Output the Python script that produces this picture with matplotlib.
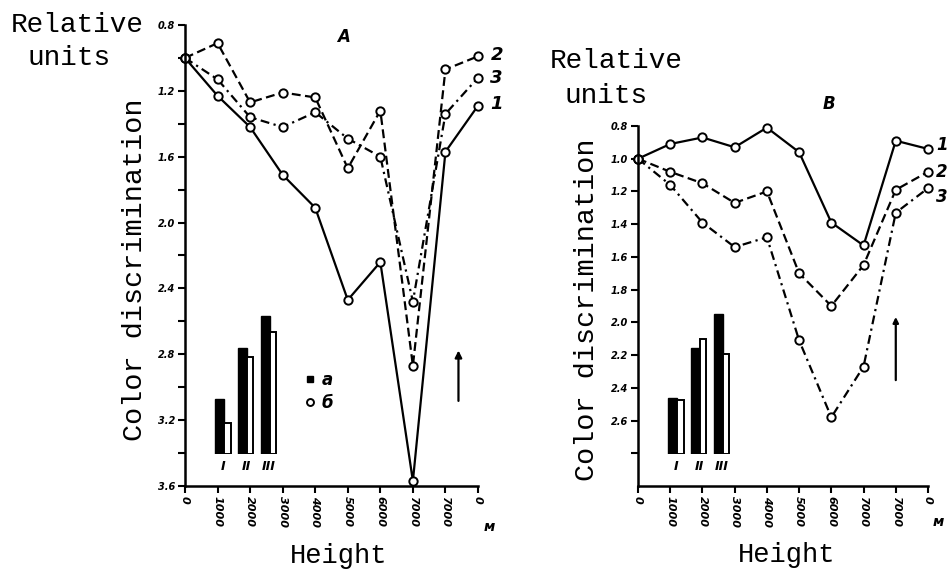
import matplotlib
matplotlib.use("Agg")
import matplotlib.pyplot as plt
import numpy as np
from matplotlib.lines import Line2D

# ---------------- data ----------------
height_labels = ["0", "1000", "2000", "3000", "4000", "5000", "6000", "7000", "7000", "0"]

A_curve1 = [1.00, 1.23, 1.42, 1.71, 1.91, 2.47, 2.24, 3.57, 1.57, 1.29]
A_curve2 = [1.00, 0.91, 1.27, 1.21, 1.24, 1.67, 1.32, 2.87, 1.07, 0.99]
A_curve3 = [1.00, 1.13, 1.36, 1.42, 1.33, 1.49, 1.60, 2.48, 1.34, 1.12]

B_curve1 = [1.00, 0.91, 0.87, 0.93, 0.81, 0.96, 1.39, 1.53, 0.89, 0.94]
B_curve2 = [1.00, 1.08, 1.15, 1.27, 1.20, 1.70, 1.90, 1.65, 1.19, 1.08]
B_curve3 = [1.00, 1.16, 1.39, 1.54, 1.48, 2.11, 2.58, 2.27, 1.33, 1.18]

A_yticks = [0.8, 1.0, 1.2, 1.4, 1.6, 1.8, 2.0, 2.2, 2.4, 2.6, 2.8, 3.0, 3.2, 3.4, 3.6]
A_yticklabels = ["0.8", "", "1.2", "", "1.6", "", "2.0", "", "2.4", "", "2.8", "", "3.2", "", "3.6"]
B_yticks = [0.8, 1.0, 1.2, 1.4, 1.6, 1.8, 2.0, 2.2, 2.4, 2.6, 2.8]
B_yticklabels = ["0.8", "1.0", "1.2", "1.4", "1.6", "1.8", "2.0", "2.2", "2.4", "2.6", ""]

bar_groups = ["I", "II", "III"]
A_bar_a = [55, 106, 138]
A_bar_b = [31, 97, 122]
B_bar_a = [56, 106, 140]
B_bar_b = [54, 115, 100]

curve_names = ["1", "2", "3"]

# ---------------- figure ----------------
W, H = 947, 572
fig = plt.figure(figsize=(9.47, 5.72), dpi=100)


def fx(px):
    return px / W


def fy(py):
    return 1 - py / H


mono = "Liberation Mono"
tickfont = dict(family="DejaVu Sans", weight="bold", style="italic")

styles = [dict(linestyle="-"),
          dict(linestyle=(0, (4, 2))),
          dict(linestyle=(0, (4, 2, 1, 2)))]


def make_panel(rect, curves, yticks, yticklabels, ylim, label_offsets, lab_size):
    ax = fig.add_axes(rect)
    x = np.arange(len(height_labels))
    for c, st in zip(curves, styles):
        ax.plot(x, c, color="black", lw=1.6, marker="o", ms=6, mfc="white",
                mec="black", mew=1.4, clip_on=False, **st)
    for c, name, off in zip(curves, curve_names, label_offsets):
        ax.annotate(name, xy=(x[-1], c[-1]), xytext=off, textcoords="offset points",
                    ha="left", va="center", fontsize=lab_size, annotation_clip=False,
                    **tickfont)
    ax.set_xlim(0, len(height_labels) - 1)
    ax.set_ylim(*ylim)
    ax.set_xticks(x)
    ax.set_xticklabels(height_labels, rotation=-90, fontsize=8, **tickfont)
    ax.set_yticks(yticks)
    ax.set_yticklabels(yticklabels, fontsize=7, **tickfont)
    ax.tick_params(direction="out", length=5, width=1.5, pad=2)
    for s in ["top", "right"]:
        ax.spines[s].set_visible(False)
    for s in ["left", "bottom"]:
        ax.spines[s].set_linewidth(1.8)
    ax.patch.set_alpha(0)
    return ax


axA = make_panel([fx(185), fy(486), fx(478) - fx(185), fy(25) - fy(486)],
                 [A_curve1, A_curve2, A_curve3], A_yticks, A_yticklabels, (3.6, 0.8),
                 [(9, 1), (9, 1), (9, 0)], 13)
axB = make_panel([fx(638), fy(486), fx(928) - fx(638), fy(126) - fy(486)],
                 [B_curve1, B_curve2, B_curve3], B_yticks, B_yticklabels, (3.0, 0.8),
                 [(6, 3), (6, 0), (6, -6)], 12)

# panel letters
axA.text(0.54, 0.975, "A", transform=axA.transAxes, fontsize=12, ha="center",
         va="center", **tickfont)
axB.text(0.66, 1.06, "B", transform=axB.transAxes, fontsize=12, ha="center",
         va="center", **tickfont)

# arrows
axA.annotate("", xy=(8.4, 2.76), xytext=(8.4, 3.10),
             arrowprops=dict(arrowstyle="-|>", color="black", lw=1.6, mutation_scale=10))
axB.annotate("", xy=(8.0, 1.95), xytext=(8.0, 2.37),
             arrowprops=dict(arrowstyle="-|>", color="black", lw=1.6, mutation_scale=8))

# unit of height
axA.text(1.04, -0.09, "м", transform=axA.transAxes, fontsize=10, ha="center",
         va="center", **tickfont)
axB.text(1.035, -0.10, "м", transform=axB.transAxes, fontsize=10, ha="center",
         va="center", **tickfont)


# inset bar charts
def make_inset(rect, a_vals, b_vals):
    ins = fig.add_axes(rect)
    xi = np.arange(len(bar_groups))
    ins.bar(xi - 0.15, a_vals, width=0.4, color="black", edgecolor="black", lw=1)
    ins.bar(xi + 0.19, b_vals, width=0.28, color="white", edgecolor="black", lw=1.4)
    ins.set_xlim(-0.5, len(bar_groups) - 0.5)
    ins.set_ylim(0, 154)
    ins.set_xticks(xi)
    ins.set_xticklabels(bar_groups, fontsize=9, **tickfont)
    ins.tick_params(length=0, pad=4)
    ins.set_yticks([])
    for s in ins.spines.values():
        s.set_visible(False)
    ins.patch.set_alpha(0)
    return ins


make_inset([fx(212), fy(454), fx(280) - fx(212), fy(300) - fy(454)], A_bar_a, A_bar_b)
make_inset([fx(665), fy(454), fx(733) - fx(665), fy(300) - fy(454)], B_bar_a, B_bar_b)

# legend a / б in panel A
handles = [Line2D([], [], marker="s", ls="", color="black", ms=5),
           Line2D([], [], marker="o", ls="", mfc="white", mec="black", ms=5, mew=1.4)]
leg = axA.legend(handles, ["а", "б"], loc="upper left", frameon=False,
                 bbox_to_anchor=(fx(290), fy(356)), bbox_transform=fig.transFigure,
                 handlelength=0.6, handletextpad=0.4, labelspacing=0.3,
                 prop=dict(size=12, style="italic", weight="bold"))

# axis labels (typewriter font)
fig.text(fx(77), fy(25), "Relative", family=mono, fontsize=20, ha="center", va="center")
fig.text(fx(69), fy(58), "units", family=mono, fontsize=20, ha="center", va="center")
fig.text(fx(616), fy(61), "Relative", family=mono, fontsize=20, ha="center", va="center")
fig.text(fx(606), fy(96), "units", family=mono, fontsize=20, ha="center", va="center")

fig.text(fx(135), fy(270), "Color discrimination", family=mono, fontsize=20.5,
         rotation=90, ha="center", va="center")
fig.text(fx(587), fy(310), "Color discrimination", family=mono, fontsize=20.5,
         rotation=90, ha="center", va="center")

fig.text(fx(339), fy(556), "Height", family=mono, fontsize=19.5, ha="center", va="center")
fig.text(fx(787), fy(555), "Height", family=mono, fontsize=19.5, ha="center", va="center")

fig.savefig("out.png", dpi=100, facecolor="white")
